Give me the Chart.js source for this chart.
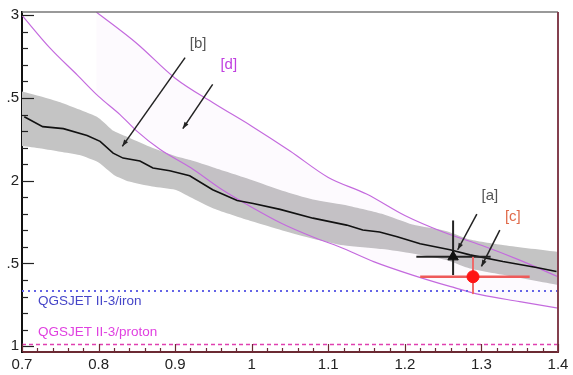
<!DOCTYPE html>
<html>
<head>
<meta charset="utf-8">
<script src="https://cdn.jsdelivr.net/npm/chart.js@4.4.0/dist/chart.umd.min.js"></script>
<style>
  html, body { margin: 0; padding: 0; background: #fff; overflow: hidden; }
  #wrap { width: 573px; height: 375px; position: relative; }
</style>
</head>
<body>
<div id="wrap"><canvas id="chart" width="573" height="375"></canvas></div>
<script>
// values
const X_TICKS = [0.7, 0.8, 0.9, 1.0, 1.1, 1.2, 1.3, 1.4];
const Y_TICKS = [1, 1.5, 2, 2.5, 3];

const MEAN_X = [0.703, 0.727, 0.754, 0.785, 0.802, 0.819, 0.832, 0.854, 0.871, 0.893, 0.919, 0.949, 0.981, 1.002, 1.037, 1.080, 1.124, 1.145, 1.167, 1.190, 1.220, 1.259, 1.285, 1.328, 1.372, 1.398];
const MEAN_Y = [2.387, 2.327, 2.315, 2.274, 2.238, 2.167, 2.137, 2.119, 2.077, 2.060, 2.030, 1.946, 1.881, 1.863, 1.827, 1.774, 1.732, 1.702, 1.690, 1.661, 1.619, 1.583, 1.552, 1.512, 1.476, 1.452];

const BAND_X  = [0.70, 0.725, 0.75, 0.775, 0.80, 0.82, 0.84, 0.87, 0.90, 0.92, 0.95, 1.00, 1.04, 1.08, 1.12, 1.17, 1.21, 1.255, 1.285, 1.33, 1.40];
const BAND_HI = [2.54, 2.51, 2.475, 2.43, 2.38, 2.30, 2.26, 2.20, 2.15, 2.125, 2.08, 2.005, 1.94, 1.887, 1.855, 1.80, 1.735, 1.695, 1.645, 1.61, 1.57];
const BAND_LO = [2.21, 2.195, 2.175, 2.155, 2.11, 2.035, 1.995, 1.965, 1.945, 1.90, 1.832, 1.755, 1.70, 1.65, 1.61, 1.587, 1.56, 1.52, 1.47, 1.43, 1.37];

const LOW_CURVE_X = [0.70, 0.737, 0.772, 0.80, 0.828, 0.85, 0.88, 0.92, 0.96, 1.00, 1.04, 1.08, 1.115, 1.16, 1.21, 1.26, 1.30, 1.35, 1.40];
const LOW_CURVE_Y = [3.00, 2.80, 2.64, 2.51, 2.40, 2.30, 2.19, 2.08, 1.95, 1.84, 1.74, 1.66, 1.60, 1.51, 1.43, 1.36, 1.31, 1.27, 1.23];

const HIGH_CURVE_X = [0.797, 0.85, 0.90, 0.95, 1.00, 1.05, 1.10, 1.15, 1.20, 1.25, 1.30, 1.35, 1.40];
const HIGH_CURVE_Y = [3.02, 2.83, 2.62, 2.47, 2.33, 2.18, 2.02, 1.92, 1.79, 1.69, 1.61, 1.52, 1.42];

const IRON_LEVEL = 1.333;
const PROTON_LEVEL = 1.01;

const POINT_A = { x: 1.263, y: 1.54, xlo: 1.215, xhi: 1.312, ylo: 1.43, yhi: 1.76 };
const POINT_C = { x: 1.289, y: 1.42, xlo: 1.22, xhi: 1.363, ylo: 1.315, yhi: 1.54 };

const ARROWS = [
  { text: '[b]', color: '#555', tx: 0.93, ty: 2.83, x0: 0.913, y0: 2.744, x1: 0.831, y1: 2.208 },
  { text: '[d]', color: '#c040e0', tx: 0.970, ty: 2.70, x0: 0.949, y0: 2.583, x1: 0.910, y1: 2.315 },
  { text: '[a]', color: '#555', tx: 1.311, ty: 1.91, x0: 1.294, y0: 1.798, x1: 1.269, y1: 1.583 },
  { text: '[c]', color: '#e06a4a', tx: 1.341, ty: 1.78, x0: 1.324, y0: 1.702, x1: 1.300, y1: 1.482 }
];
const NOTES = [
  { text: 'QGSJET II-3/iron', color: '#4646c8', x: 0.721, y: 1.274 },
  { text: 'QGSJET II-3/proton', color: '#e040e0', x: 0.721, y: 1.083 }
];

const zip = (xs, ys) => xs.map((x, i) => ({ x: x, y: ys[i] }));
const seg = (x0, y0, x1, y1) => [{ x: x0, y: y0 }, { x: x1, y: y1 }];

const frame = {
  id: 'frame',
  afterDraw(chart) {
    const ctx = chart.ctx;
    const a = chart.chartArea;
    const sx = chart.scales.x, sy = chart.scales.y;
    ctx.save();
    // top and right frame
    ctx.lineWidth = 1.5;
    ctx.strokeStyle = '#777';
    ctx.beginPath(); ctx.moveTo(a.left, a.top); ctx.lineTo(a.right, a.top); ctx.stroke();
    ctx.lineWidth = 2;
    ctx.strokeStyle = '#84404f';
    ctx.beginPath(); ctx.moveTo(a.right, a.top); ctx.lineTo(a.right, a.bottom); ctx.stroke();

    // inward ticks
    ctx.lineWidth = 1.2;
    ctx.strokeStyle = '#222';
    for (let i = 0; i <= 20; i++) {
      const py = Math.round(sy.getPixelForValue(1 + i * 0.1)) + 0.5;
      const len = i % 5 === 0 ? 12 : 6;
      ctx.beginPath(); ctx.moveTo(a.left, py); ctx.lineTo(a.left + len, py); ctx.stroke();
    }
    ctx.strokeStyle = '#6b2a33';
    for (let i = 0; i <= 35; i++) {
      const px = Math.round(sx.getPixelForValue(0.7 + i * 0.02)) + 0.5;
      const len = i % 5 === 0 ? 8 : 4;
      ctx.beginPath(); ctx.moveTo(px, a.bottom); ctx.lineTo(px, a.bottom - len); ctx.stroke();
    }

    // arrows + bracket labels
    ctx.font = '15px "Liberation Sans", Arial, sans-serif';
    ctx.textAlign = 'center';
    ctx.textBaseline = 'middle';
    ARROWS.forEach(ar => {
      const x0 = sx.getPixelForValue(ar.x0), y0 = sy.getPixelForValue(ar.y0);
      const x1 = sx.getPixelForValue(ar.x1), y1 = sy.getPixelForValue(ar.y1);
      ctx.strokeStyle = '#222';
      ctx.fillStyle = '#222';
      ctx.lineWidth = 1.5;
      ctx.beginPath(); ctx.moveTo(x0, y0); ctx.lineTo(x1, y1); ctx.stroke();
      const ang = Math.atan2(y1 - y0, x1 - x0);
      ctx.beginPath();
      ctx.moveTo(x1, y1);
      ctx.lineTo(x1 - 7 * Math.cos(ang - 0.35), y1 - 7 * Math.sin(ang - 0.35));
      ctx.lineTo(x1 - 7 * Math.cos(ang + 0.35), y1 - 7 * Math.sin(ang + 0.35));
      ctx.closePath(); ctx.fill();
      ctx.fillStyle = ar.color;
      ctx.fillText(ar.text, sx.getPixelForValue(ar.tx), sy.getPixelForValue(ar.ty));
    });

    ctx.font = '13.5px "Liberation Sans", Arial, sans-serif';
    ctx.textAlign = 'left';
    NOTES.forEach(n => {
      ctx.fillStyle = n.color;
      ctx.fillText(n.text, sx.getPixelForValue(n.x), sy.getPixelForValue(n.y));
    });
    ctx.restore();
  }
};

const line = (data, color, width, order, extra) => Object.assign({
  type: 'line', data: data, borderColor: color, borderWidth: width,
  pointRadius: 0, fill: false, tension: 0, order: order
}, extra || {});

new Chart(document.getElementById('chart'), {
  type: 'line',
  data: {
    datasets: [
      line(zip(BAND_X, BAND_HI), 'rgba(0,0,0,0)', 0, 20, { fill: '+1', backgroundColor: '#c4c4c4', tension: 0.2 }),
      line(zip(BAND_X, BAND_LO), 'rgba(0,0,0,0)', 0, 19, { tension: 0.2 }),
      line(zip(LOW_CURVE_X, LOW_CURVE_Y), '#c46ade', 1.2, 15, { cubicInterpolationMode: 'monotone' }),
      line(zip(HIGH_CURVE_X, HIGH_CURVE_Y), '#c46ade', 1.2, 14, { cubicInterpolationMode: 'monotone', fill: '-1', backgroundColor: 'rgba(215,140,235,0.04)' }),
      line(zip(MEAN_X, MEAN_Y), '#111', 1.6, 10),
      line(seg(0.7, IRON_LEVEL, 1.4, IRON_LEVEL), '#6464e6', 2, 9, { borderDash: [2, 4] }),
      line(seg(0.7, PROTON_LEVEL, 1.4, PROTON_LEVEL), '#e040b0', 1.5, 9, { borderDash: [4, 3] }),
      line(seg(POINT_A.xlo, POINT_A.y, POINT_A.xhi, POINT_A.y), '#222', 2, 5),
      line(seg(POINT_A.x, POINT_A.ylo, POINT_A.x, POINT_A.yhi), '#222', 2, 5),
      line(seg(POINT_C.xlo, POINT_C.y, POINT_C.xhi, POINT_C.y), '#ee5a5a', 2.5, 4),
      line(seg(POINT_C.x, POINT_C.ylo, POINT_C.x, POINT_C.yhi), '#ee6a6a', 2, 4),
      { type: 'scatter', data: [{ x: POINT_A.x, y: POINT_A.y }], pointStyle: 'triangle', pointRadius: 6, backgroundColor: '#111', borderColor: '#111', order: 1 },
      { type: 'scatter', data: [{ x: POINT_C.x, y: POINT_C.y }], pointStyle: 'circle', pointRadius: 6, backgroundColor: '#ff1414', borderColor: '#ff1414', order: 0 }
    ]
  },
  options: {
    responsive: false,
    animation: false,
    layout: { padding: { top: 7, right: 15, left: 0, bottom: 0 } },
    plugins: { legend: { display: false }, tooltip: { enabled: false } },
    scales: {
      x: {
        type: 'linear', min: 0.7, max: 1.4,
        afterBuildTicks: s => { s.ticks = X_TICKS.map(v => ({ value: v })); },
        afterFit: s => { s.height = 23; },
        grid: { display: false, drawTicks: false },
        border: { display: true, color: '#6b2a33', width: 2 },
        ticks: {
          color: '#222', padding: 4, maxRotation: 0, autoSkip: false,
          font: { family: '"Liberation Sans", Arial, sans-serif', size: 15 },
          callback: v => String(Math.round(v * 10) / 10)
        }
      },
      y: {
        type: 'linear', min: 0.965, max: 3.02,
        afterBuildTicks: s => { s.ticks = Y_TICKS.map(v => ({ value: v })); },
        afterFit: s => { s.width = 22; },
        grid: { display: false, drawTicks: false },
        border: { display: true, color: '#111', width: 2 },
        ticks: {
          color: '#222', padding: 3, autoSkip: false,
          font: { family: '"Liberation Sans", Arial, sans-serif', size: 15 },
          callback: v => (v % 1 === 0 ? String(v) : '.5')
        }
      }
    }
  },
  plugins: [frame]
});
</script>
</body>
</html>
